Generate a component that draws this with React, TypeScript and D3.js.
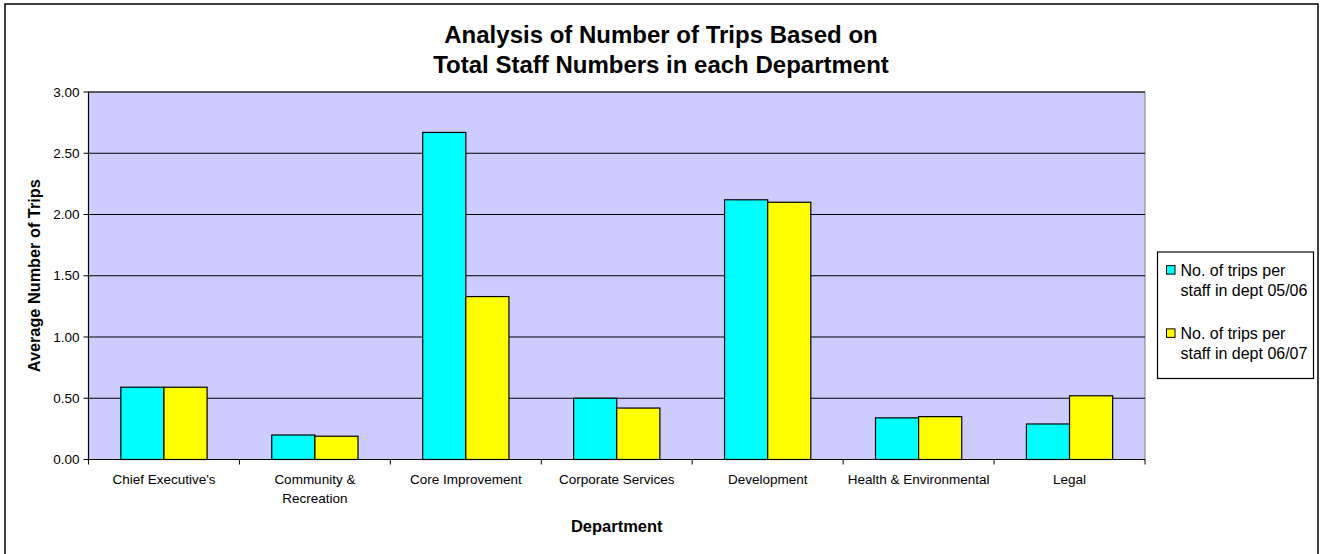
import React from "react";
import * as d3 from "d3";

const departments = [
  ["Chief Executive's"],
  ["Community &", "Recreation"],
  ["Core Improvement"],
  ["Corporate Services"],
  ["Development"],
  ["Health & Environmental"],
  ["Legal"],
];
const seriesNames = ["No. of trips per staff in dept 05/06", "No. of trips per staff in dept 06/07"];
const legendLines = [
  ["No. of trips per", "staff in dept 05/06"],
  ["No. of trips per", "staff in dept 06/07"],
];
const trips0506 = [0.59, 0.2, 2.67, 0.5, 2.12, 0.34, 0.29];
const trips0607 = [0.59, 0.19, 1.33, 0.42, 2.1, 0.35, 0.52];
const yTicks = [0, 0.5, 1, 1.5, 2, 2.5, 3];
const seriesColors = ["#00FFFF", "#FFFF00"];

const W = 1321;
const H = 554;
const FONT = "'Liberation Sans', Arial, Helvetica, sans-serif";

export default function App() {
  const left = 88.5;
  const right = 1145;
  const top = 92;
  const bottom = 459.5;

  const keys = departments.map((d) => d.join(" "));
  const x = d3.scaleBand<string>().domain(keys).range([left, right]).padding(0);
  const inner = d3
    .scaleBand<string>()
    .domain(["a", "b"])
    .range([0, x.step()])
    .paddingInner(0)
    .paddingOuter(0.75);
  const y = d3.scaleLinear().domain([0, 3]).range([bottom, top]);
  const series = [trips0506, trips0607];
  const fmt = d3.format(".2f");
  const cx = (left + right) / 2;

  return (
    <svg
      width={W}
      height={H}
      style={{ position: "absolute", left: 0, top: 0, background: "#fff" }}
      fontFamily={FONT}
    >
      {/* chart frame */}
      <rect x={5} y={4} width={1313} height={580} fill="#fff" stroke="#000" strokeWidth={1.5} />

      {/* title */}
      <text x={661} y={43} textAnchor="middle" fontSize={24} fontWeight="bold" fill="#000">
        Analysis of Number of Trips Based on
      </text>
      <text x={661} y={73} textAnchor="middle" fontSize={24} fontWeight="bold" fill="#000">
        Total Staff Numbers in each Department
      </text>

      {/* plot area */}
      <rect x={left} y={top} width={right - left} height={bottom - top} fill="#CCCCFF" stroke="#808080" strokeWidth={1} />
      {yTicks.map((t) => (
        <line key={"g" + t} x1={left} x2={right} y1={y(t)} y2={y(t)} stroke="#000" strokeWidth={1.2} />
      ))}

      {/* bars */}
      {series.map((vals, si) =>
        vals.map((v, i) => (
          <rect
            key={si + "-" + i}
            x={(x(keys[i]) as number) + (inner(si === 0 ? "a" : "b") as number)}
            y={y(v)}
            width={inner.bandwidth()}
            height={y(0) - y(v)}
            fill={seriesColors[si]}
            stroke="#000"
            strokeWidth={1.2}
          />
        ))
      )}

      {/* axes */}
      <line x1={left} x2={left} y1={top} y2={bottom} stroke="#000" strokeWidth={1.2} />
      <line x1={left} x2={right} y1={bottom} y2={bottom} stroke="#000" strokeWidth={1.2} />
      {yTicks.map((t) => (
        <g key={"yt" + t}>
          <line x1={left - 5} x2={left} y1={y(t)} y2={y(t)} stroke="#000" strokeWidth={1} />
          <text x={left - 9} y={y(t)} dy="0.35em" textAnchor="end" fontSize={13.5} fill="#000">
            {fmt(t)}
          </text>
        </g>
      ))}
      {keys.map((k, i) => (
        <line
          key={"xt" + i}
          x1={x(k) as number}
          x2={x(k) as number}
          y1={bottom}
          y2={bottom + 5}
          stroke="#000"
          strokeWidth={1}
        />
      ))}
      <line x1={right} x2={right} y1={bottom} y2={bottom + 5} stroke="#000" strokeWidth={1} />
      {departments.map((lines, i) => (
        <text
          key={"xl" + i}
          x={(x(keys[i]) as number) + x.bandwidth() / 2}
          y={484}
          textAnchor="middle"
          fontSize={13.5}
          fill="#000"
        >
          {lines.map((l, j) => (
            <tspan key={j} x={(x(keys[i]) as number) + x.bandwidth() / 2} dy={j === 0 ? 0 : 19}>
              {l}
            </tspan>
          ))}
        </text>
      ))}

      {/* axis titles */}
      <text x={cx} y={532} textAnchor="middle" fontSize={16.5} fontWeight="bold" fill="#000">
        Department
      </text>
      <text
        transform={`translate(34,${(top + bottom) / 2}) rotate(-90)`}
        textAnchor="middle"
        dy="0.35em"
        fontSize={16.3}
        fontWeight="bold"
        fill="#000"
      >
        Average Number of Trips
      </text>

      {/* legend */}
      <g>
        <rect x={1157.5} y={252} width={156} height={126.5} fill="#fff" stroke="#000" strokeWidth={1.2} />
        {seriesNames.map((name, si) => {
          const cy = 252 + 126.5 * (si + 0.5) / 2 - 3.5;
          return (
            <g key={name}>
              <rect x={1166.5} y={cy - 14.5} width={8.5} height={8.5} fill={seriesColors[si]} stroke="#000" strokeWidth={1} />
              {legendLines[si].map((l, j) => (
                <text key={j} x={1180.5} y={cy - 10 + j * 20} dy="0.35em" fontSize={16} fill="#000">
                  {l}
                </text>
              ))}
            </g>
          );
        })}
      </g>
    </svg>
  );
}
